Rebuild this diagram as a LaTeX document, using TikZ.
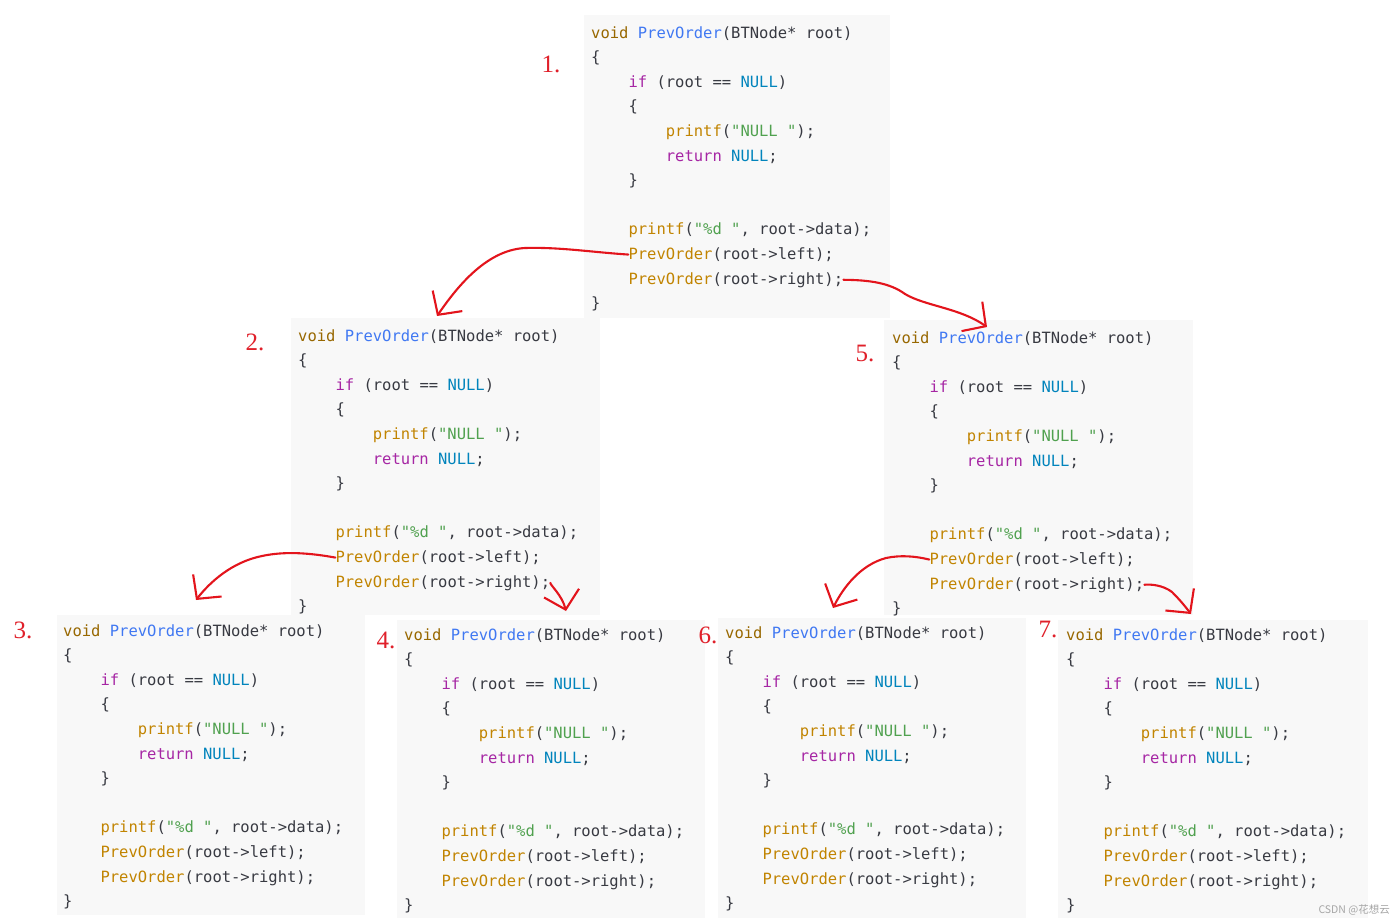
\documentclass[tikz,border=0pt]{standalone}
\usepackage{fontspec}
\usetikzlibrary{arrows.meta}
\newfontfamily\codefont{DejaVu Sans Mono}
\newfontfamily\cjkfont{Noto Sans CJK SC}
\newfontfamily\labelfont{Liberation Serif}
\definecolor{cvoid}{HTML}{986801}
\definecolor{cfun}{HTML}{4078F2}
\definecolor{ckey}{HTML}{A626A4}
\definecolor{cnull}{HTML}{0184BC}
\definecolor{cprint}{HTML}{C18401}
\definecolor{cstr}{HTML}{50A14F}
\definecolor{ctext}{HTML}{383A42}
\definecolor{cbg}{HTML}{F8F8F8}
\definecolor{hred}{HTML}{E3141C}
\definecolor{lred}{HTML}{E0202A}
\newcommand\cV[1]{\textcolor{cvoid}{#1}}
\newcommand\cF[1]{\textcolor{cfun}{#1}}
\newcommand\cK[1]{\textcolor{ckey}{#1}}
\newcommand\cN[1]{\textcolor{cnull}{#1}}
\newcommand\cP[1]{\textcolor{cprint}{#1}}
\newcommand\cS[1]{\textcolor{cstr}{#1}}
\def\lh{24.6}
\def\cw{9.33}
\tikzset{
  codeln/.style={anchor=base west, inner sep=0pt, font=\codefont\fontsize{15.5}{18}\selectfont, text=ctext},
  codebg/.style={fill=cbg, draw=none},
  steplabel/.style={text=lred, font=\labelfont\fontsize{25}{25}\selectfont, inner sep=0pt},
  hand/.style={draw=hred, line width=2.1pt, line cap=round, line join=round,
    -{Straight Barb[length=17pt,width=36pt]}},
  wmark/.style={text=black!35, font=\cjkfont\fontsize{10.5}{12}\selectfont, inner sep=0pt}
}
\newcommand\codeblk[3]{%
  \node[codeln] (#1-1) at ({#2},{#3}) {\cV{void} \cF{PrevOrder}(BTNode* root)};
  \node[codeln] (#1-2) at ({#2},{#3+1*\lh}) {\{};
  \node[codeln] (#1-3) at ({#2+4*\cw},{#3+2*\lh}) {\cK{if} (root == \cN{NULL})};
  \node[codeln] (#1-4) at ({#2+4*\cw},{#3+3*\lh}) {\{};
  \node[codeln] (#1-5) at ({#2+8*\cw},{#3+4*\lh}) {\cP{printf}(\cS{"NULL "});};
  \node[codeln] (#1-6) at ({#2+8*\cw},{#3+5*\lh}) {\cK{return} \cN{NULL};};
  \node[codeln] (#1-7) at ({#2+4*\cw},{#3+6*\lh}) {\}};
  \node[codeln] (#1-9) at ({#2+4*\cw},{#3+8*\lh}) {\cP{printf}(\cS{"\%d "}, root->data);};
  \node[codeln] (#1-10) at ({#2+4*\cw},{#3+9*\lh}) {\cP{PrevOrder}(root->left);};
  \node[codeln] (#1-11) at ({#2+4*\cw},{#3+10*\lh}) {\cP{PrevOrder}(root->right);};
  \node[codeln] (#1-12) at ({#2},{#3+11*\lh}) {\}};
}
\begin{document}
\begin{tikzpicture}[x=1pt,y=-1pt]
\useasboundingbox (0,0) rectangle (1400,922);
\fill[white] (0,0) rectangle (1400,922);
% backgrounds
\fill[codebg] (584,15) rectangle (890,318);
\fill[codebg] (291,318) rectangle (600,615);
\fill[codebg] (884,320) rectangle (1193,615);
\fill[codebg] (57,615) rectangle (365,915);
\fill[codebg] (397,620) rectangle (705,918);
\fill[codebg] (718,618) rectangle (1026,918);
\fill[codebg] (1058,620) rectangle (1368,918);
% code
\codeblk{b1}{591}{38}
\codeblk{b2}{298}{341}
\codeblk{b5}{892}{343}
\codeblk{b3}{63}{636}
\codeblk{b4}{404}{640}
\codeblk{b6}{725}{638}
\codeblk{b7}{1066}{640}
% labels
\node[steplabel] (n1) at (551,64) {1.};
\node[steplabel] (n2) at (255,342) {2.};
\node[steplabel] (n5) at (865,353) {5.};
\node[steplabel] (n3) at (23,630) {3.};
\node[steplabel] (n4) at (386,640) {4.};
\node[steplabel] (n6) at (708,635) {6.};
\node[steplabel] (n7) at (1048,629) {7.};
% arrow targets
\coordinate (t2) at (437,316);
\coordinate (t5) at (987,327);
\coordinate (t3) at (196,600);
\coordinate (t4) at (566,611);
\coordinate (t6) at (833,608);
\coordinate (t7) at (1191,614);
% arrows
\draw[hand] (b1-10.west) .. controls (590,252) and (560,247) .. (525,248)
  .. controls (485,250) and (455,290) .. (t2);
\draw[hand] (b1-11.east) .. controls (870,280) and (890,283) .. (905,294)
  .. controls (925,306) and (960,308) .. (t5);
\draw[hand] (b2-10.west) .. controls (310,553) and (285,551) .. (262,556)
  .. controls (232,562) and (210,582) .. (t3);
\draw[hand] (b2-11.east) .. controls (550,585) and (562,595) .. (t4);
\draw[hand] (b5-10.west) .. controls (915,556) and (900,555) .. (886,558)
  .. controls (860,565) and (843,588) .. (t6);
\draw[hand] (b5-11.east) .. controls (1150,584) and (1163,585) .. (1172,592)
  .. controls (1180,600) and (1184,605) .. (t7);
% watermark
\node[wmark, anchor=east] (wm) at (1390,910) {CSDN @花想云};
\end{tikzpicture}
\end{document}
